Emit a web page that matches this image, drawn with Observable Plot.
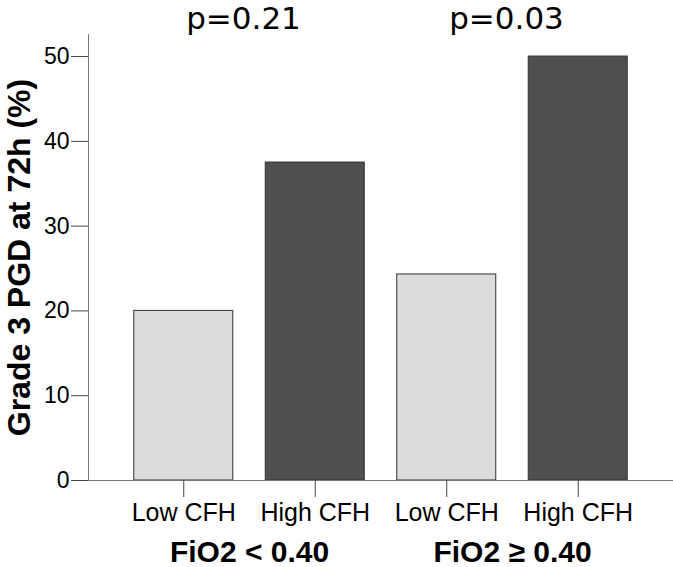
<!DOCTYPE html>
<html><head><meta charset="utf-8">
<script src="https://cdn.jsdelivr.net/npm/d3@7"></script>
<script src="https://cdn.jsdelivr.net/npm/@observablehq/plot@0.6"></script>
<style>body{margin:0;background:#fff}</style>
</head><body><div id="chart"></div>
<script>
const groups = ["FiO2 < 0.40", "FiO2 ≥ 0.40"];
const pValues = ["p=0.21", "p=0.03"];
const categories = ["Low CFH", "High CFH", "Low CFH", "High CFH"];
const categoryGroup = [0, 0, 1, 1];
const values = [20, 37.5, 24.3, 50];
const yTicks = [0, 10, 20, 30, 40, 50];
const yLabel = "Grade 3 PGD at 72h (%)";

const rows = categories.map((c, i) => ({key: String(i), category: c, value: values[i]}));
const groupRows = groups.map((g, j) => ({group: g, p: pValues[j], key: String(categoryGroup.indexOf(j))}));

function build(halfStep) {
  return Plot.plot({
    width: 673, height: 567,
    marginLeft: 88, marginRight: 0, marginTop: 34, marginBottom: 87,
    style: {fontFamily: "'Liberation Sans', Arial, sans-serif", background: "#fff", color: "#000"},
    x: {domain: rows.map(d => d.key), paddingInner: 0.247, paddingOuter: 0.348, round: false},
    y: {domain: [0, 52.6]},
    color: {domain: ["Low CFH", "High CFH"], range: ["#dcdcdc", "#4f4f4f"]},
    marks: [
      Plot.barY(rows, {x: "key", y: "value", fill: "category", stroke: "#333", strokeWidth: 1}),
      Plot.frame({anchor: "left", stroke: "#777"}),
      Plot.ruleY([0], {stroke: "#777"}),
      Plot.axisY({ticks: yTicks, tickSize: 17, tickPadding: 2, fontSize: 23, label: null, stroke: "#444"}),
      Plot.axisX({tickSize: 17, tickPadding: 6, fontSize: 25, label: null, stroke: "#444", tickFormat: k => categories[+k]}),
      Plot.text([yLabel], {frameAnchor: "left", textAnchor: "middle", lineAnchor: "middle", rotate: -90, dx: -69, fontSize: 32, fontWeight: "bold", text: d => d}),
      Plot.text(groupRows, {x: "key", dx: halfStep, frameAnchor: "bottom", dy: 72, text: "group", fontSize: 30, fontWeight: "bold", lineAnchor: "middle"}),
      Plot.text(groupRows, {x: "key", dx: halfStep - 6, frameAnchor: "top", dy: -6, text: "p", fontSize: 31, fontFamily: "DejaVu Sans", lineAnchor: "bottom"})
    ]
  });
}
const probe = build(0);
const half = probe.scale("x").step / 2;
document.getElementById("chart").append(build(half));
</script>
</body></html>
